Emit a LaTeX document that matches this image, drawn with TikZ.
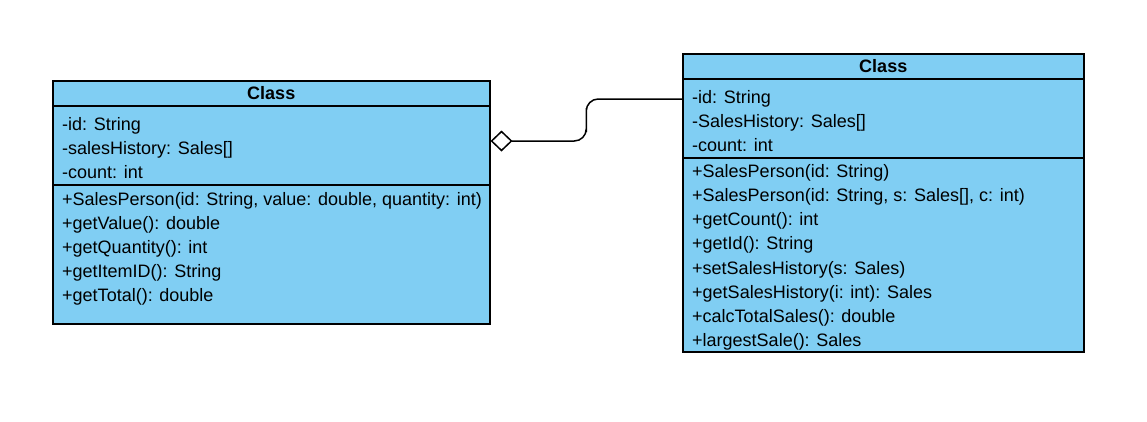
\documentclass[tikz,border=0pt]{standalone}
\usepackage{fontspec}
\setmainfont{Liberation Sans}
\usetikzlibrary{arrows.meta,calc}
\definecolor{cls}{RGB}{128,206,243}
\tikzset{
 classbox/.style={draw=black, fill=cls, line width=1.5pt, inner sep=0pt, anchor=north west},
 member/.style={anchor=west, inner sep=0pt, text height=13pt, text depth=4pt, font=\fontsize{18}{20}\selectfont},
 ctitle/.style={inner sep=0pt, text height=13pt, text depth=4pt, font=\bfseries\fontsize{18}{20}\selectfont},
 divider/.style={draw=black, line width=1.5pt},
 assoc/.style={draw=black, line width=1.5pt, rounded corners=12pt},
}
\begin{document}
\begin{tikzpicture}[x=1pt,y=-1pt]
\useasboundingbox (0,0) rectangle (1147,421);
% left class
\node[classbox, minimum width=437pt, minimum height=243pt] (L) at (52,80) {};
\draw[divider] (L.west |- 0,106) -- (L.east |- 0,106);
\draw[divider] (L.west |- 0,185) -- (L.east |- 0,185);
\node[ctitle] (Lt) at ($(L.north)+(0,14.5)$) {Class};
\node[member] (L1) at (62,125.5) {-id: String};
\node[member] (L2) at (62,149.5) {-salesHistory: Sales[]};
\node[member] (L3) at (62,173.5) {-count: int};
\node[member] (L4) at (62,200.5) {+SalesPerson(id: String, value: double, quantity: int)};
\node[member] (L5) at (62,224.5) {+getValue(): double};
\node[member] (L6) at (62,248.5) {+getQuantity(): int};
\node[member] (L7) at (62,272.5) {+getItemID(): String};
\node[member] (L8) at (62,296.5) {+getTotal(): double};
% right class
\node[classbox, minimum width=401pt, minimum height=298pt] (R) at (682,53) {};
\draw[divider] (R.west |- 0,79) -- (R.east |- 0,79);
\draw[divider] (R.west |- 0,158) -- (R.east |- 0,158);
\node[ctitle] (Rt) at ($(R.north)+(0,14.5)$) {Class};
\node[member] (R1) at (692,98.5) {-id: String};
\node[member] (R2) at (692,122.5) {-SalesHistory: Sales[]};
\node[member] (R3) at (692,146.5) {-count: int};
\node[member] (R4) at (692,172.5) {+SalesPerson(id: String)};
\node[member] (R5) at (692,196.5) {+SalesPerson(id: String, s: Sales[], c: int)};
\node[member] (R6) at (692,220.5) {+getCount(): int};
\node[member] (R7) at (692,244.5) {+getId(): String};
\node[member] (R8) at (692,269.5) {+setSalesHistory(s: Sales)};
\node[member] (R9) at (692,293.5) {+getSalesHistory(i: int): Sales};
\node[member] (R10) at (692,317.5) {+calcTotalSales(): double};
\node[member] (R11) at (692,341.5) {+largestSale(): Sales};
% association
\coordinate (La) at (L.east |- 0,141);
\coordinate (Ra) at (R.west |- 0,99);
\draw[assoc, {Diamond[open,length=22pt,width=21pt,sharp]}-] (La) -| ($(La)!.5!(Ra)$) |- (Ra);
\end{tikzpicture}
\end{document}
